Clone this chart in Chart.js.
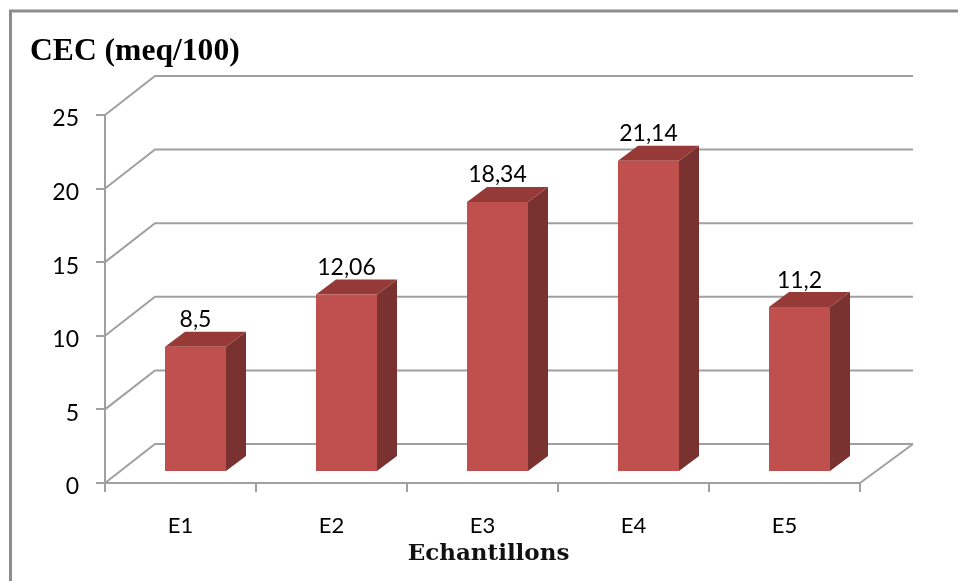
<!DOCTYPE html>
<html>
<head>
<meta charset="utf-8">
<title>CEC</title>
<script src="https://cdn.jsdelivr.net/npm/chart.js@4"></script>
<style>
	html, body { margin: 0; padding: 0; background: #fff; overflow: hidden; }
	canvas { display: block; }
</style>
</head>
<body>
<canvas id="cecChart" width="958" height="581"></canvas>
<script>
// chart values
const categories = ["E1", "E2", "E3", "E4", "E5"];
const cecValues = [8.5, 12.06, 18.34, 21.14, 11.2];
const chartTitle = "CEC (meq/100)";
const xTitle = "Echantillons";

const gridColor = "#a0a0a0";
const wallDepth = { x: 50, y: -39 }; // floor depth of the fake 3D box
const barShift = { x: 15, y: -11 }; // bars stand a bit behind the front edge
const barDepth = { x: 20, y: -15 };

function polygon(ctx, points, color) {
	ctx.fillStyle = color;
	ctx.beginPath();
	points.forEach((p, i) => (i ? ctx.lineTo(p[0], p[1]) : ctx.moveTo(p[0], p[1])));
	ctx.closePath();
	ctx.fill();
}

// frame, back wall lines and the side/top faces of the bars
const box3d = {
	id: "box3d",
	beforeDatasetsDraw(chart) {
		const { ctx, scales, chartArea } = chart;
		ctx.save();

		// outer frame, open on the right and at the bottom
		ctx.strokeStyle = "#8c8c8c";
		ctx.lineWidth = 3;
		ctx.beginPath();
		ctx.moveTo(10.5, 581);
		ctx.lineTo(10.5, 11);
		ctx.lineTo(958, 11);
		ctx.stroke();

		ctx.strokeStyle = gridColor;
		ctx.lineWidth = 2;
		scales.y.ticks.forEach((tick) => {
			const y = scales.y.getPixelForValue(tick.value);
			ctx.beginPath();
			ctx.moveTo(chartArea.left, y);
			ctx.lineTo(chartArea.left + wallDepth.x, y + wallDepth.y);
			ctx.lineTo(chartArea.right + wallDepth.x + 3, y + wallDepth.y);
			ctx.stroke();
		});
		// right edge of the floor
		ctx.beginPath();
		ctx.moveTo(chartArea.right, chartArea.bottom);
		ctx.lineTo(chartArea.right + wallDepth.x + 3, chartArea.bottom + wallDepth.y);
		ctx.stroke();

		// side and top of each bar, then shift so the front faces land on them
		ctx.translate(barShift.x, barShift.y);
		chart.getDatasetMeta(0).data.forEach((bar) => {
			const right = bar.x + bar.width / 2;
			const left = bar.x - bar.width / 2;
			polygon(ctx, [
				[right, bar.y],
				[right + barDepth.x, bar.y + barDepth.y],
				[right + barDepth.x, bar.base + barDepth.y],
				[right, bar.base],
			], "#7a3230");
			polygon(ctx, [
				[left, bar.y],
				[left + barDepth.x, bar.y + barDepth.y],
				[right + barDepth.x, bar.y + barDepth.y],
				[right, bar.y],
			], "#953a37");
		});
		// restored in afterDatasetsDraw, the front faces still need the shift
	},
	afterDatasetsDraw(chart) {
		const { ctx, chartArea } = chart;
		ctx.restore();

		ctx.save();
		ctx.fillStyle = "#000";
		ctx.textAlign = "center";
		ctx.textBaseline = "middle";

		// value labels, decimal comma
		ctx.font = "23px Lato";
		chart.getDatasetMeta(0).data.forEach((bar, i) => {
			ctx.fillText(String(cecValues[i]).replace(".", ","), bar.x + barShift.x, bar.y - 38);
		});

		// axis name sits a little right of the axis centre
		ctx.fillStyle = "#111";
		ctx.font = "bold 23px 'DejaVu Serif'";
		ctx.fillText(xTitle, (chartArea.left + chartArea.right) / 2 + 6, chartArea.bottom + 71);
		ctx.restore();
	},
};

const ctx = document.getElementById("cecChart").getContext("2d");
const chart = new Chart(ctx, {
	type: "bar",
	data: {
		labels: categories,
		datasets: [
			{
				data: cecValues,
				backgroundColor: "#c0504d",
				barPercentage: 1,
				categoryPercentage: 0.404,
			},
		],
	},
	plugins: [box3d],
	options: {
		responsive: false,
		animation: false,
		layout: { padding: { left: 30, right: 98, top: 0, bottom: 0 } },
		plugins: {
			legend: { display: false },
			tooltip: { enabled: false },
			title: {
				display: true,
				text: chartTitle,
				align: "start",
				color: "#000",
				font: { family: "'Liberation Serif'", size: 31.6, weight: "bold" },
				padding: { top: 33, bottom: 44 },
			},
		},
		scales: {
			x: {
				afterFit(scale) {
					scale.height = 98;
				},
				border: { color: gridColor, width: 2 },
				grid: { drawOnChartArea: false, color: gridColor, lineWidth: 2, tickLength: 9 },
				ticks: { color: "#000", font: { family: "Lato", size: 22 }, padding: 21, maxRotation: 0 },
			},
			y: {
				min: 0,
				max: 25,
				afterFit(scale) {
					scale.width = 75;
				},
				border: { color: gridColor, width: 2 },
				grid: { drawOnChartArea: false, color: gridColor, lineWidth: 2, tickLength: 9 },
				ticks: { stepSize: 5, color: "#000", font: { family: "Lato", size: 23 }, padding: 17, labelOffset: 4 },
			},
		},
	},
});
</script>
</body>
</html>
